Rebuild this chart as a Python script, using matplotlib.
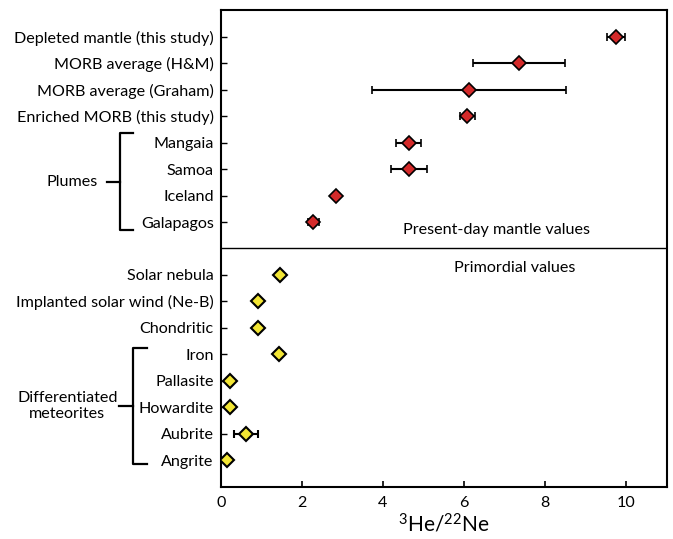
import matplotlib
matplotlib.use("Agg")
import matplotlib.pyplot as plt
from matplotlib.transforms import blended_transform_factory

plt.rcParams["font.family"] = ["Lato", "DejaVu Sans"]
plt.rcParams["mathtext.fontset"] = "custom"
plt.rcParams["mathtext.rm"] = "Lato"

# present-day mantle values
mantle_labels = ["Depleted mantle (this study)", "MORB average (H&M)",
                 "MORB average (Graham)", "Enriched MORB (this study)",
                 "Mangaia", "Samoa", "Iceland", "Galapagos"]
mantle_vals = [9.75, 7.35, 6.12, 6.07, 4.63, 4.63, 2.85, 2.28]
mantle_err_lo = [0.23, 1.14, 2.40, 0.17, 0.30, 0.44, 0.0, 0.14]
mantle_err_hi = [0.22, 1.13, 2.40, 0.19, 0.30, 0.46, 0.0, 0.14]

# primordial values
prim_labels = ["Solar nebula", "Implanted solar wind (Ne-B)", "Chondritic",
               "Iron", "Pallasite", "Howardite", "Aubrite", "Angrite"]
prim_vals = [1.47, 0.91, 0.91, 1.44, 0.23, 0.23, 0.63, 0.15]
prim_err_lo = [0.0, 0.0, 0.0, 0.0, 0.0, 0.0, 0.30, 0.0]
prim_err_hi = [0.0, 0.0, 0.0, 0.0, 0.0, 0.0, 0.29, 0.0]

mantle_pos = list(range(0, 8))
prim_pos = list(range(9, 17))

fig = plt.figure(figsize=(6.73, 5.39), dpi=100)
ax = fig.add_axes([0.328, 0.097, 0.663, 0.884])

ax.errorbar(mantle_vals, mantle_pos, xerr=[mantle_err_lo, mantle_err_hi],
            fmt="D", ms=7.5, mfc="#d42a2a", mec="black", mew=1.2,
            ecolor="black", elinewidth=1.5, capsize=3, capthick=1.5, zorder=3)
ax.errorbar(prim_vals, prim_pos, xerr=[prim_err_lo, prim_err_hi],
            fmt="D", ms=7.5, mfc="#f2e534", mec="black", mew=1.5,
            ecolor="black", elinewidth=1.5, capsize=3, capthick=1.5, zorder=3)

ax.axhline(8, color="black", lw=1)

fs = 11.6
ax.set_yticks(mantle_pos + prim_pos)
ax.set_yticklabels(mantle_labels + prim_labels, fontsize=fs)
ax.set_ylim(17, -1)
ax.set_xlim(0, 11)
ax.set_xticks([0, 2, 4, 6, 8, 10])
ax.tick_params(axis="x", labelsize=fs, direction="in", length=4, width=1.2,
               pad=7)
ax.tick_params(axis="y", direction="in", length=4, width=1, pad=5)
for s in ax.spines.values():
    s.set_linewidth(1.5)
ax.set_xlabel(r"$\mathregular{^{3}He/^{22}Ne}$", fontsize=15, labelpad=2)

ax.text(6.81, 7.3, "Present-day mantle values", fontsize=fs,
        ha="center", va="center")
ax.text(7.25, 8.75, "Primordial values", fontsize=fs,
        ha="center", va="center")

# group brackets
tr = blended_transform_factory(ax.transAxes, ax.transData)
def bracket(y0, y1, xv, xarm, xstub, label, xtext):
    ym = (y0 + y1) / 2
    ax.plot([xarm, xv, xv, xarm], [y0, y0, y1, y1], color="black", lw=1.6,
            transform=tr, clip_on=False)
    ax.plot([xstub, xv], [ym, ym], color="black", lw=1.6,
            transform=tr, clip_on=False)
    ax.text(xtext, ym, label, transform=tr, fontsize=fs, ha="center",
            va="center", linespacing=1.1)

bracket(3.64, 7.3, -0.2256, -0.1965, -0.2548, "Plumes", -0.333)
bracket(11.75, 16.15, -0.1965, -0.165, -0.228, "Differentiated\nmeteorites",
        -0.344)

fig.savefig("out.png", dpi=100)
